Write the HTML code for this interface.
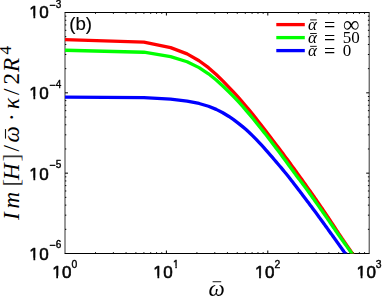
<!DOCTYPE html>
<html><head><meta charset="utf-8"><title>plot</title>
<style>html,body{margin:0;padding:0;background:#fff;}body{width:382px;height:296px;overflow:hidden;font-family:"Liberation Sans",sans-serif;}svg{display:block;}</style>
</head><body>
<svg width="382" height="296" viewBox="0 0 382 296">
<rect width="382" height="296" fill="#fff"/>
<defs><clipPath id="ax"><rect x="64.50" y="12.00" width="305.20" height="241.50"/></clipPath></defs>
<g stroke="#000" stroke-width="1" fill="none">
<line x1="65.00" y1="13.00" x2="65.00" y2="253.00" stroke-opacity="0.8"/>
<line x1="369.20" y1="13.00" x2="369.20" y2="253.00" stroke-opacity="0.8"/>
<line x1="64.50" y1="12.50" x2="369.70" y2="12.50"/>
<line x1="64.50" y1="253.50" x2="369.70" y2="253.50"/>
<line x1="95.52" y1="253.50" x2="95.52" y2="252.20"/>
<line x1="95.52" y1="12.50" x2="95.52" y2="13.80"/>
<line x1="113.38" y1="253.50" x2="113.38" y2="252.20"/>
<line x1="113.38" y1="12.50" x2="113.38" y2="13.80"/>
<line x1="126.05" y1="253.50" x2="126.05" y2="252.20"/>
<line x1="126.05" y1="12.50" x2="126.05" y2="13.80"/>
<line x1="135.88" y1="253.50" x2="135.88" y2="252.20"/>
<line x1="135.88" y1="12.50" x2="135.88" y2="13.80"/>
<line x1="143.90" y1="253.50" x2="143.90" y2="252.20"/>
<line x1="143.90" y1="12.50" x2="143.90" y2="13.80"/>
<line x1="150.69" y1="253.50" x2="150.69" y2="252.20"/>
<line x1="150.69" y1="12.50" x2="150.69" y2="13.80"/>
<line x1="156.57" y1="253.50" x2="156.57" y2="252.20"/>
<line x1="156.57" y1="12.50" x2="156.57" y2="13.80"/>
<line x1="161.76" y1="253.50" x2="161.76" y2="252.20"/>
<line x1="161.76" y1="12.50" x2="161.76" y2="13.80"/>
<line x1="166.40" y1="253.50" x2="166.40" y2="250.50"/>
<line x1="166.40" y1="12.50" x2="166.40" y2="15.50"/>
<line x1="196.92" y1="253.50" x2="196.92" y2="252.20"/>
<line x1="196.92" y1="12.50" x2="196.92" y2="13.80"/>
<line x1="214.78" y1="253.50" x2="214.78" y2="252.20"/>
<line x1="214.78" y1="12.50" x2="214.78" y2="13.80"/>
<line x1="227.45" y1="253.50" x2="227.45" y2="252.20"/>
<line x1="227.45" y1="12.50" x2="227.45" y2="13.80"/>
<line x1="237.28" y1="253.50" x2="237.28" y2="252.20"/>
<line x1="237.28" y1="12.50" x2="237.28" y2="13.80"/>
<line x1="245.30" y1="253.50" x2="245.30" y2="252.20"/>
<line x1="245.30" y1="12.50" x2="245.30" y2="13.80"/>
<line x1="252.09" y1="253.50" x2="252.09" y2="252.20"/>
<line x1="252.09" y1="12.50" x2="252.09" y2="13.80"/>
<line x1="257.97" y1="253.50" x2="257.97" y2="252.20"/>
<line x1="257.97" y1="12.50" x2="257.97" y2="13.80"/>
<line x1="263.16" y1="253.50" x2="263.16" y2="252.20"/>
<line x1="263.16" y1="12.50" x2="263.16" y2="13.80"/>
<line x1="267.80" y1="253.50" x2="267.80" y2="250.50"/>
<line x1="267.80" y1="12.50" x2="267.80" y2="15.50"/>
<line x1="298.32" y1="253.50" x2="298.32" y2="252.20"/>
<line x1="298.32" y1="12.50" x2="298.32" y2="13.80"/>
<line x1="316.18" y1="253.50" x2="316.18" y2="252.20"/>
<line x1="316.18" y1="12.50" x2="316.18" y2="13.80"/>
<line x1="328.85" y1="253.50" x2="328.85" y2="252.20"/>
<line x1="328.85" y1="12.50" x2="328.85" y2="13.80"/>
<line x1="338.68" y1="253.50" x2="338.68" y2="252.20"/>
<line x1="338.68" y1="12.50" x2="338.68" y2="13.80"/>
<line x1="346.70" y1="253.50" x2="346.70" y2="252.20"/>
<line x1="346.70" y1="12.50" x2="346.70" y2="13.80"/>
<line x1="353.49" y1="253.50" x2="353.49" y2="252.20"/>
<line x1="353.49" y1="12.50" x2="353.49" y2="13.80"/>
<line x1="359.37" y1="253.50" x2="359.37" y2="252.20"/>
<line x1="359.37" y1="12.50" x2="359.37" y2="13.80"/>
<line x1="364.56" y1="253.50" x2="364.56" y2="252.20"/>
<line x1="364.56" y1="12.50" x2="364.56" y2="13.80"/>
<line x1="65.00" y1="229.32" x2="66.30" y2="229.32"/>
<line x1="369.20" y1="229.32" x2="367.90" y2="229.32"/>
<line x1="65.00" y1="215.17" x2="66.30" y2="215.17"/>
<line x1="369.20" y1="215.17" x2="367.90" y2="215.17"/>
<line x1="65.00" y1="205.13" x2="66.30" y2="205.13"/>
<line x1="369.20" y1="205.13" x2="367.90" y2="205.13"/>
<line x1="65.00" y1="197.35" x2="66.30" y2="197.35"/>
<line x1="369.20" y1="197.35" x2="367.90" y2="197.35"/>
<line x1="65.00" y1="190.99" x2="66.30" y2="190.99"/>
<line x1="369.20" y1="190.99" x2="367.90" y2="190.99"/>
<line x1="65.00" y1="185.61" x2="66.30" y2="185.61"/>
<line x1="369.20" y1="185.61" x2="367.90" y2="185.61"/>
<line x1="65.00" y1="180.95" x2="66.30" y2="180.95"/>
<line x1="369.20" y1="180.95" x2="367.90" y2="180.95"/>
<line x1="65.00" y1="176.84" x2="66.30" y2="176.84"/>
<line x1="369.20" y1="176.84" x2="367.90" y2="176.84"/>
<line x1="65.00" y1="173.17" x2="68.00" y2="173.17"/>
<line x1="369.20" y1="173.17" x2="366.20" y2="173.17"/>
<line x1="65.00" y1="148.98" x2="66.30" y2="148.98"/>
<line x1="369.20" y1="148.98" x2="367.90" y2="148.98"/>
<line x1="65.00" y1="134.84" x2="66.30" y2="134.84"/>
<line x1="369.20" y1="134.84" x2="367.90" y2="134.84"/>
<line x1="65.00" y1="124.80" x2="66.30" y2="124.80"/>
<line x1="369.20" y1="124.80" x2="367.90" y2="124.80"/>
<line x1="65.00" y1="117.02" x2="66.30" y2="117.02"/>
<line x1="369.20" y1="117.02" x2="367.90" y2="117.02"/>
<line x1="65.00" y1="110.66" x2="66.30" y2="110.66"/>
<line x1="369.20" y1="110.66" x2="367.90" y2="110.66"/>
<line x1="65.00" y1="105.28" x2="66.30" y2="105.28"/>
<line x1="369.20" y1="105.28" x2="367.90" y2="105.28"/>
<line x1="65.00" y1="100.62" x2="66.30" y2="100.62"/>
<line x1="369.20" y1="100.62" x2="367.90" y2="100.62"/>
<line x1="65.00" y1="96.51" x2="66.30" y2="96.51"/>
<line x1="369.20" y1="96.51" x2="367.90" y2="96.51"/>
<line x1="65.00" y1="92.83" x2="68.00" y2="92.83"/>
<line x1="369.20" y1="92.83" x2="366.20" y2="92.83"/>
<line x1="65.00" y1="68.65" x2="66.30" y2="68.65"/>
<line x1="369.20" y1="68.65" x2="367.90" y2="68.65"/>
<line x1="65.00" y1="54.50" x2="66.30" y2="54.50"/>
<line x1="369.20" y1="54.50" x2="367.90" y2="54.50"/>
<line x1="65.00" y1="44.47" x2="66.30" y2="44.47"/>
<line x1="369.20" y1="44.47" x2="367.90" y2="44.47"/>
<line x1="65.00" y1="36.68" x2="66.30" y2="36.68"/>
<line x1="369.20" y1="36.68" x2="367.90" y2="36.68"/>
<line x1="65.00" y1="30.32" x2="66.30" y2="30.32"/>
<line x1="369.20" y1="30.32" x2="367.90" y2="30.32"/>
<line x1="65.00" y1="24.94" x2="66.30" y2="24.94"/>
<line x1="369.20" y1="24.94" x2="367.90" y2="24.94"/>
<line x1="65.00" y1="20.29" x2="66.30" y2="20.29"/>
<line x1="369.20" y1="20.29" x2="367.90" y2="20.29"/>
<line x1="65.00" y1="16.18" x2="66.30" y2="16.18"/>
<line x1="369.20" y1="16.18" x2="367.90" y2="16.18"/>
</g>
<g clip-path="url(#ax)" fill="none" stroke-width="3.30" stroke-linejoin="round">
<polyline points="65.00,39.58 143.90,42.21 170.60,47.62 187.10,53.89 199.07,60.73 208.48,67.68 216.22,74.48 222.81,80.89 228.54,86.80 233.60,92.17 238.15,97.13 242.27,101.79 246.03,106.22 249.50,110.41 252.72,114.37 255.71,118.12 258.52,121.68 261.16,125.06 263.65,128.26 266.00,131.31 268.24,134.21 270.37,137.00 272.40,139.66 274.34,142.21 276.19,144.66 277.98,147.02 279.69,149.29 281.34,151.48 282.93,153.60 284.47,155.66 285.95,157.66 287.38,159.60 288.77,161.49 290.12,163.33 291.43,165.11 292.69,166.85 293.93,168.54 295.13,170.19 296.30,171.80 297.43,173.37 298.54,174.91 299.63,176.41 300.68,177.88 301.71,179.32 302.72,180.73 303.71,182.11 304.67,183.46 305.61,184.79 306.54,186.09 307.44,187.37 308.33,188.62 309.20,189.85 310.05,191.05 310.88,192.24 311.70,193.41 312.51,194.56 313.30,195.69 314.08,196.80 314.84,197.90 315.59,198.98 316.33,200.05 317.05,201.10 317.77,202.14 318.47,203.16 319.16,204.16 319.84,205.16 320.51,206.13 321.17,207.10 321.82,208.05 322.46,208.99 323.09,209.92 323.72,210.83 324.33,211.73 324.94,212.62 325.53,213.50 326.12,214.37 326.71,215.23 327.28,216.08 327.85,216.93 328.41,217.77 328.96,218.60 329.50,219.43 330.04,220.24 330.58,221.05 331.10,221.86 331.62,222.65 332.14,223.44 332.64,224.21 333.15,224.98 333.64,225.74 334.13,226.50 334.62,227.24 335.10,227.97 335.57,228.70 336.04,229.42 336.51,230.13 336.97,230.83 337.42,231.52 337.88,232.21 338.32,232.88 338.76,233.55 339.20,234.21 339.63,234.86 340.06,235.50 340.49,236.13 340.91,236.75 341.32,237.37 341.74,237.98 342.15,238.58 342.55,239.18 342.95,239.77 343.35,240.36 343.74,240.94 344.14,241.52 344.52,242.09 344.91,242.65 345.29,243.21 345.66,243.76 346.04,244.31 346.41,244.86 346.78,245.40 347.14,245.93 347.50,246.46 347.86,246.99 348.22,247.51 348.57,248.03 348.92,248.54 349.27,249.05 349.62,249.55 349.96,250.05 350.30,250.55 350.63,251.04 350.97,251.53 351.30,252.01 351.63,252.49 351.96,252.97 352.28,253.44 352.60,253.91 352.92,254.38 353.24,254.84 353.56,255.30 353.87,255.75 354.18,256.20 354.49,256.65 354.79,257.10 355.10,257.54 355.40,257.98 355.70,258.41 356.00,258.85 356.30,259.28 356.59,259.70 356.88,260.13 357.17,260.55 357.46,260.97 357.75,261.39 358.03,261.80 358.31,262.21 358.60,262.62 358.88,263.02 359.15,263.42 359.43,263.82 359.70,264.22 359.97,264.62 360.25,265.01 360.51,265.40 360.78,265.79 361.05,266.17 361.31,266.56 361.57,266.94 361.84,267.32 362.09,267.69 362.35,268.07 362.61,268.44 362.86,268.81 363.12,269.18 363.37,269.54 363.62,269.90 363.87,270.27 364.12,270.62 364.36,270.98 364.61,271.34 364.85,271.69 365.10,272.04 365.34,272.39 365.58,272.74 365.81,273.08 366.05,273.43 366.29,273.77 366.52,274.11 366.76,274.44 366.99,274.78" stroke="#ff0000"/>
<polyline points="65.00,50.23 143.90,52.23 170.60,56.60 187.10,61.71 199.07,67.63 208.48,73.83 216.22,79.98 222.81,85.99 228.54,91.53 233.60,96.61 238.15,101.43 242.27,106.01 246.03,110.34 249.50,114.44 252.72,118.32 255.71,122.00 258.52,125.47 261.16,128.74 263.65,131.86 266.00,134.84 268.24,137.72 270.37,140.49 272.40,143.15 274.34,145.72 276.19,148.19 277.98,150.57 279.69,152.87 281.34,155.10 282.93,157.25 284.47,159.33 285.95,161.34 287.38,163.29 288.77,165.19 290.12,167.02 291.43,168.81 292.69,170.54 293.93,172.23 295.13,173.87 296.30,175.46 297.43,176.99 298.54,178.45 299.63,179.86 300.68,181.22 301.71,182.56 302.72,183.87 303.71,185.17 304.67,186.47 305.61,187.76 306.54,189.05 307.44,190.32 308.33,191.56 309.20,192.78 310.05,193.98 310.88,195.15 311.70,196.31 312.51,197.44 313.30,198.56 314.08,199.66 314.84,200.73 315.59,201.80 316.33,202.84 317.05,203.87 317.77,204.88 318.47,205.87 319.16,206.85 319.84,207.82 320.51,208.77 321.17,209.71 321.82,210.63 322.46,211.54 323.09,212.44 323.72,213.33 324.33,214.20 324.94,215.07 325.53,215.92 326.12,216.77 326.71,217.61 327.28,218.44 327.85,219.26 328.41,220.08 328.96,220.88 329.50,221.68 330.04,222.46 330.58,223.24 331.10,224.01 331.62,224.77 332.14,225.52 332.64,226.26 333.15,227.00 333.64,227.72 334.13,228.44 334.62,229.14 335.10,229.84 335.57,230.53 336.04,231.22 336.51,231.89 336.97,232.55 337.42,233.21 337.88,233.86 338.32,234.50 338.76,235.13 339.20,235.76 339.63,236.38 340.06,236.99 340.49,237.59 340.91,238.18 341.32,238.77 341.74,239.35 342.15,239.93 342.55,240.50 342.95,241.06 343.35,241.61 343.74,242.17 344.14,242.71 344.52,243.25 344.91,243.79 345.29,244.32 345.66,244.84 346.04,245.36 346.41,245.88 346.78,246.39 347.14,246.90 347.50,247.40 347.86,247.90 348.22,248.40 348.57,248.89 348.92,249.37 349.27,249.86 349.62,250.34 349.96,250.82 350.30,251.29 350.63,251.76 350.97,252.23 351.30,252.69 351.63,253.15 351.96,253.61 352.28,254.07 352.60,254.52 352.92,254.97 353.24,255.42 353.56,255.86 353.87,256.30 354.18,256.74 354.49,257.18 354.79,257.61 355.10,258.04 355.40,258.47 355.70,258.90 356.00,259.32 356.30,259.74 356.59,260.15 356.88,260.57 357.17,260.98 357.46,261.39 357.75,261.79 358.03,262.20 358.31,262.60 358.60,263.00 358.88,263.39 359.15,263.78 359.43,264.18 359.70,264.56 359.97,264.95 360.25,265.33 360.51,265.71 360.78,266.09 361.05,266.47 361.31,266.84 361.57,267.22 361.84,267.59 362.09,267.95 362.35,268.32 362.61,268.68 362.86,269.05 363.12,269.41 363.37,269.76 363.62,270.12 363.87,270.47 364.12,270.82 364.36,271.17 364.61,271.52 364.85,271.87 365.10,272.21 365.34,272.55 365.58,272.89 365.81,273.23 366.05,273.57 366.29,273.90 366.52,274.24 366.76,274.57 366.99,274.90" stroke="#00ff00"/>
<polyline points="65.00,97.10 143.90,97.67 170.60,99.12 187.10,101.11 199.07,103.46 208.48,106.23 216.22,109.40 222.81,112.78 228.54,116.22 233.60,119.68 238.15,123.09 242.27,126.37 246.03,129.56 249.50,132.70 252.72,135.82 255.71,138.89 258.52,141.87 261.16,144.72 263.65,147.43 266.00,150.06 268.24,152.60 270.37,155.06 272.40,157.44 274.34,159.74 276.19,161.92 277.98,163.99 279.69,165.99 281.34,167.92 282.93,169.82 284.47,171.69 285.95,173.53 287.38,175.32 288.77,177.07 290.12,178.77 291.43,180.44 292.69,182.07 293.93,183.66 295.13,185.22 296.30,186.73 297.43,188.22 298.54,189.67 299.63,191.09 300.68,192.48 301.71,193.84 302.72,195.18 303.71,196.48 304.67,197.75 305.61,199.00 306.54,200.23 307.44,201.43 308.33,202.61 309.20,203.76 310.05,204.90 310.88,206.01 311.70,207.10 312.51,208.18 313.30,209.24 314.08,210.28 314.84,211.31 315.59,212.32 316.33,213.32 317.05,214.30 317.77,215.27 318.47,216.23 319.16,217.17 319.84,218.10 320.51,219.02 321.17,219.92 321.82,220.82 322.46,221.70 323.09,222.57 323.72,223.43 324.33,224.28 324.94,225.11 325.53,225.94 326.12,226.76 326.71,227.56 327.28,228.36 327.85,229.14 328.41,229.92 328.96,230.69 329.50,231.45 330.04,232.20 330.58,232.94 331.10,233.67 331.62,234.40 332.14,235.11 332.64,235.82 333.15,236.52 333.64,237.22 334.13,237.90 334.62,238.58 335.10,239.25 335.57,239.92 336.04,240.57 336.51,241.22 336.97,241.87 337.42,242.51 337.88,243.14 338.32,243.76 338.76,244.38 339.20,244.99 339.63,245.60 340.06,246.20 340.49,246.80 340.91,247.39 341.32,247.97 341.74,248.55 342.15,249.13 342.55,249.69 342.95,250.26 343.35,250.82 343.74,251.37 344.14,251.92 344.52,252.47 344.91,253.01 345.29,253.54 345.66,254.07 346.04,254.60 346.41,255.12 346.78,255.64 347.14,256.15 347.50,256.66 347.86,257.17 348.22,257.67 348.57,258.16 348.92,258.66 349.27,259.15 349.62,259.63 349.96,260.12 350.30,260.60 350.63,261.07 350.97,261.54 351.30,262.01 351.63,262.47 351.96,262.94 352.28,263.39 352.60,263.85 352.92,264.30 353.24,264.75 353.56,265.19 353.87,265.63 354.18,266.07 354.49,266.51 354.79,266.94 355.10,267.37 355.40,267.80 355.70,268.22 356.00,268.64 356.30,269.06 356.59,269.48 356.88,269.89 357.17,270.30 357.46,270.71 357.75,271.11 358.03,271.52 358.31,271.92 358.60,272.31 358.88,272.71 359.15,273.10 359.43,273.49 359.70,273.88 359.97,274.27 360.25,274.65" stroke="#0000ff"/>
</g>
<g fill="none" stroke-width="3.30">
<line x1="276.3" y1="24.60" x2="304.8" y2="24.60" stroke="#ff0000"/>
<line x1="276.3" y1="37.60" x2="304.8" y2="37.60" stroke="#00ff00"/>
<line x1="276.3" y1="50.60" x2="304.8" y2="50.60" stroke="#0000ff"/>
</g>
<defs><clipPath id="c10"><rect x="-2" y="-20" width="30" height="17.43"/><rect x="4.17" y="-2.67" width="1.70" height="4"/><rect x="9.65" y="-2.67" width="20" height="4"/></clipPath></defs>
<defs><clipPath id="c1e"><rect x="-2" y="-14" width="12" height="12.22"/><rect x="2.32" y="-1.88" width="1.52" height="3"/></clipPath></defs>
<g font-family="'Liberation Sans', sans-serif" fill="#000" stroke="#000" stroke-width="0.6" stroke-linejoin="round" opacity="0.99">
<text transform="translate(29.34,260.20)" clip-path="url(#c10)" font-size="17.0" letter-spacing="0.50">10</text>
<text x="49.3" y="248.90" font-size="10.6" stroke-width="0.5">−</text>
<text x="55.7" y="248.40" font-size="10.0" stroke-width="0.4">6</text>
<text transform="translate(29.34,180.20)" clip-path="url(#c10)" font-size="17.0" letter-spacing="0.50">10</text>
<text x="49.3" y="168.90" font-size="10.6" stroke-width="0.5">−</text>
<text x="55.7" y="168.40" font-size="10.0" stroke-width="0.4">5</text>
<text transform="translate(29.34,98.70)" clip-path="url(#c10)" font-size="17.0" letter-spacing="0.50">10</text>
<text x="49.3" y="88.70" font-size="10.6" stroke-width="0.5">−</text>
<text x="55.7" y="87.90" font-size="10.0" stroke-width="0.4">4</text>
<text transform="translate(29.34,18.40)" clip-path="url(#c10)" font-size="17.0" letter-spacing="0.50">10</text>
<text x="49.3" y="8.70" font-size="10.6" stroke-width="0.5">−</text>
<text x="55.7" y="7.80" font-size="10.0" stroke-width="0.4">3</text>
<text transform="translate(52.14,278.40)" clip-path="url(#c10)" font-size="17.0" letter-spacing="0.50">10</text>
<text x="71.60" y="267.6" font-size="10.4" stroke-width="0.4">0</text>
<text transform="translate(153.34,278.40)" clip-path="url(#c10)" font-size="17.0" letter-spacing="0.50">10</text>
<text transform="translate(173.00,267.6)" clip-path="url(#c1e)" font-size="10.4" stroke-width="0.4">1</text>
<text transform="translate(254.94,278.40)" clip-path="url(#c10)" font-size="17.0" letter-spacing="0.50">10</text>
<text x="274.40" y="267.6" font-size="10.4" stroke-width="0.4">2</text>
<text transform="translate(356.54,278.40)" clip-path="url(#c10)" font-size="17.0" letter-spacing="0.50">10</text>
<text x="375.80" y="267.6" font-size="10.4" stroke-width="0.4">3</text>
<text x="69.2" y="29.7" font-size="18.7" stroke-width="0.15">(b)</text>
</g>
<g transform="translate(18.60,221.00) rotate(-90)" fill="#000" stroke="#000" stroke-width="0.2">
<g font-family="'Liberation Serif', serif" font-size="23" font-style="italic" stroke="none">
<text x="1" y="0.5">I</text>
<text x="12.5" y="0">m</text>
<text x="34.5" y="0.5" font-style="normal" fill-opacity="0.8">[</text>
<text x="41" y="0.5">H</text>
<text x="59.5" y="0.5" font-style="normal" fill-opacity="0.8">]</text>
<text x="69.5" y="0.5" font-style="normal">/</text>
<text x="78.5" y="0">ω</text>
<text x="100" y="0" font-style="normal">·</text>
<text x="112" y="0">κ</text>
<text x="126" y="0" font-style="normal">/</text>
<text x="136.5" y="0" font-style="normal">2</text>
<text x="149" y="0">R</text>
<text x="166.5" y="-7.7" font-size="17" font-style="normal">4</text>
</g>
<rect x="82.50" y="-13.55" width="8.90" height="0.9"/>
</g>
<text x="208.5" y="296.4" font-family="'Liberation Serif', serif" font-size="23" font-style="italic" fill="#000">ω</text>
<rect x="212.6" y="281.3" width="8.6" height="0.9" fill="#000"/>
<rect x="310.1" y="19.45" width="6.6" height="0.9" fill="#000"/>
<rect x="310.1" y="33.05" width="6.6" height="0.9" fill="#000"/>
<rect x="310.1" y="45.85" width="6.6" height="0.9" fill="#000"/>
<g font-family="'Liberation Serif', serif" fill="#000">
<text x="308" y="29.8" font-size="17" font-style="italic">α</text>
<text x="324" y="32" font-size="20">=</text>
<text x="343" y="32.2" font-size="23">∞</text>
<text x="308" y="42.9" font-size="17" font-style="italic">α</text>
<text x="324" y="44.8" font-size="20">=</text>
<text x="342.8" y="43" font-size="17">50</text>
<text x="308" y="55.6" font-size="17" font-style="italic">α</text>
<text x="324" y="58.1" font-size="20">=</text>
<text x="342.8" y="55.7" font-size="17">0</text>
</g>
</svg>
</body></html>
